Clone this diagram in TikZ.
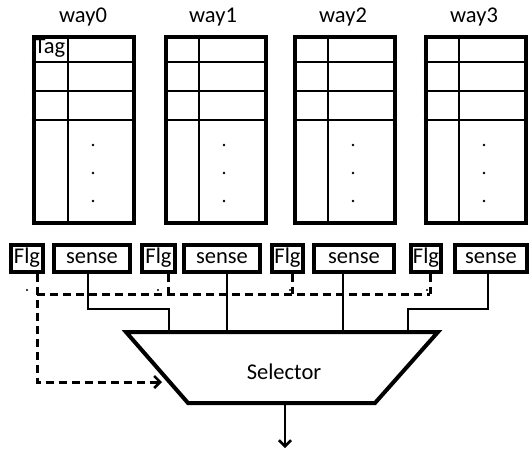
\documentclass[tikz,border=0pt]{standalone}
\usepackage{fontspec}
\setmainfont{Carlito}
\usetikzlibrary{arrows.meta}
\begin{document}
\begin{tikzpicture}[x=1pt,y=-1pt,
  txt/.style={font=\fontsize{22.5}{27}\selectfont, inner sep=0pt},
  wayblk/.style={draw, line width=4.2pt, minimum width=100pt, minimum height=186pt, inner sep=0pt},
  inner/.style={line width=2.5pt},
  box/.style={draw, line width=4pt, minimum height=27pt, inner sep=0pt, font=\fontsize{22.5}{27}\selectfont},
  conn/.style={line width=2.5pt},
  dsh/.style={line width=3pt, dash pattern=on 8pt off 5pt},
  tip/.style={-{Straight Barb[length=6pt,width=12pt,line width=2.5pt]}},
  trap/.style={line width=4pt, line join=miter}]
\useasboundingbox (0,0) rectangle (531,450);
% way blocks
\foreach \i/\L/\D in {0/31.5/68, 1/163.5/199, 2/292.5/328, 3/423.5/459}{
  \node[wayblk, anchor=north west] (w\i) at (\L,34.5) {};
  \draw[inner] (\D,34.5) -- (\D,220.5);
  \foreach \yy in {62,91,120}{\draw[inner] (\L,\yy) -- (\L+100,\yy);}
  \foreach \yy in {145,173,201}{\fill (\D+25,\yy) circle (1.4pt);}
}
\node[txt] (l0) at (83,17) {way0};
\node[txt] (l1) at (213,17) {way1};
\node[txt] (l2) at (343,17) {way2};
\node[txt] (l3) at (474,17) {way3};
\node[txt] (tag) at (50,48) {Tag};
% flag / sense boxes
\node[box, minimum width=32pt] (f0) at (27,258) {Flg};
\node[box, minimum width=76pt] (s0) at (92,258) {sense};
\node[box, minimum width=33pt] (f1) at (158.5,258) {Flg};
\node[box, minimum width=76pt] (s1) at (222,258) {sense};
\node[box, minimum width=31pt] (f2) at (287.5,258) {Flg};
\node[box, minimum width=80pt] (s2) at (354,258) {sense};
\node[box, minimum width=30pt] (f3) at (426,258) {Flg};
\node[box, minimum width=72pt] (s3) at (491,258) {sense};
% selector
\coordinate (tl) at (126,332);
\coordinate (tr) at (438,332);
\coordinate (br) at (375,403);
\coordinate (bl) at (188,403);
\draw[trap] (tl) -- (tr) -- (br) -- (bl) -- cycle;
\node[txt] (sel) at (284,372) {Selector};
% sense connectors
\coordinate (in0) at (169,332);
\coordinate (in1) at (227,332);
\coordinate (in2) at (343,332);
\coordinate (in3) at (408,332);
\coordinate (k0) at (88,309);
\coordinate (k3) at (488,309);
\draw[conn] (s0.south -| k0) -- (k0) -| (in0);
\draw[conn] (s1.south -| in1) -- (in1);
\draw[conn] (s2.south -| in2) -- (in2);
\draw[conn] (s3.south -| k3) -- (k3) -| (in3);
% flag dashed connectors
\coordinate (h0) at (37,294);
\coordinate (h1) at (168,294);
\coordinate (h2) at (292,294);
\coordinate (h3) at (430,294);
\coordinate (a0) at (162,382);
\draw[dsh] (h0) -- (h3);
\draw[dsh] (f1.south -| h1) -- (h1);
\draw[dsh] (f2.south -| h2) -- (h2);
\draw[dsh] (f3.south -| h3) -- (h3);
\draw[dsh, tip] (f0.south -| h0) |- (a0);
\foreach \xx in {27,158,290,427}{\fill (\xx,290) circle (1.2pt);}
% output
\coordinate (o0) at (285,403);
\coordinate (o1) at (285,448);
\draw[conn, tip] (o0) -- (o1);
\end{tikzpicture}
\end{document}
